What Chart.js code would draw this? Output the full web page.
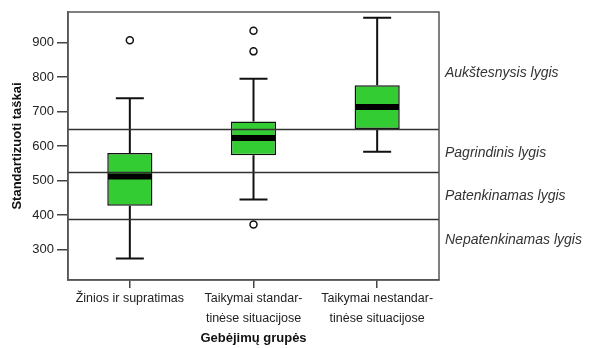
<!DOCTYPE html>
<html>
<head>
<meta charset="utf-8">
<script src="https://cdn.jsdelivr.net/npm/chart.js@4.4.1/dist/chart.umd.min.js"></script>
<style>
html,body{margin:0;padding:0;background:#fff;}
#wrap{width:591px;height:348px;position:relative;}
</style>
</head>
<body>
<div id="wrap"><canvas id="c" width="591" height="348"></canvas></div>
<script>
// ---- data ----
const categories = [
  ["Žinios ir supratimas"],
  ["Taikymai standar-", "tinėse situacijose"],
  ["Taikymai nestandar-", "tinėse situacijose"]
];
const whiskerLow  = [274, 445, 583];
const q1          = [427, 573, 649];
const median      = [512, 623, 713];
const q3          = [580, 671, 776];
const whiskerHigh = [738, 795, 971];
const outlierCategory = [0, 1, 1, 1];
const outlierValue    = [906, 934, 874, 373];
const yTicks = [300, 400, 500, 600, 700, 800, 900];
const levelLines = [650, 525, 390];
const levelLabels = ["Aukštesnysis lygis", "Pagrindinis lygis", "Patenkinamas lygis", "Nepatenkinamas lygis"];
const levelLabelPos = [811, 580, 455, 328];
const yTitle = "Standartizuoti taškai";
const xTitle = "Gebėjimų grupės";

const FONT = "'Liberation Sans', Arial, sans-serif";

const boxPlugin = {
  id: 'boxExtras',
  afterDatasetsDraw(chart) {
    const ctx = chart.ctx;
    const y = chart.scales.y;
    const area = chart.chartArea;
    const meta = chart.getDatasetMeta(0);
    ctx.save();
    meta.data.forEach((bar, i) => {
      const cx = bar.x;
      const w = bar.width;
      ctx.strokeStyle = '#111';
      ctx.lineWidth = 2;
      ctx.beginPath();
      ctx.moveTo(cx, y.getPixelForValue(q3[i]));
      ctx.lineTo(cx, y.getPixelForValue(whiskerHigh[i]));
      ctx.moveTo(cx, y.getPixelForValue(q1[i]));
      ctx.lineTo(cx, y.getPixelForValue(whiskerLow[i]));
      const cap = w * 0.31;
      ctx.moveTo(cx - cap, y.getPixelForValue(whiskerHigh[i]));
      ctx.lineTo(cx + cap, y.getPixelForValue(whiskerHigh[i]));
      ctx.moveTo(cx - cap, y.getPixelForValue(whiskerLow[i]));
      ctx.lineTo(cx + cap, y.getPixelForValue(whiskerLow[i]));
      ctx.stroke();
      ctx.strokeStyle = '#000';
      ctx.lineWidth = 6;
      ctx.beginPath();
      const my = y.getPixelForValue(median[i]);
      ctx.moveTo(cx - w / 2 + 0.75, my);
      ctx.lineTo(cx + w / 2 - 0.75, my);
      ctx.stroke();
    });
    ctx.strokeStyle = '#333';
    ctx.lineWidth = 1.5;
    levelLines.forEach(v => {
      const py = Math.round(y.getPixelForValue(v)) + 0.5;
      ctx.beginPath();
      ctx.moveTo(area.left, py);
      ctx.lineTo(area.right, py);
      ctx.stroke();
    });
    ctx.strokeStyle = '#555';
    ctx.lineWidth = 1.5;
    ctx.strokeRect(area.left, area.top, area.right - area.left, area.bottom - area.top);
    ctx.fillStyle = '#333';
    ctx.font = "italic 14px " + FONT;
    ctx.textAlign = 'left';
    ctx.textBaseline = 'middle';
    levelLabels.forEach((t, i) => {
      ctx.fillText(t, area.right + 6, y.getPixelForValue(levelLabelPos[i]));
    });
    ctx.restore();
  }
};

new Chart(document.getElementById('c'), {
  type: 'bar',
  data: {
    labels: categories,
    datasets: [
      {
        type: 'bar',
        data: q1.map((v, i) => [v, q3[i]]),
        backgroundColor: '#33cc33',
        borderColor: '#111',
        borderWidth: 1.5,
        borderSkipped: false,
        barPercentage: 0.365,
        categoryPercentage: 1.0
      },
      {
        type: 'line',
        data: outlierValue.map((v, i) => ({ x: categories[outlierCategory[i]], y: v })),
        showLine: false,
        pointStyle: 'circle',
        pointRadius: 3.5,
        pointBackgroundColor: '#fff',
        pointBorderColor: '#111',
        pointBorderWidth: 1.5
      }
    ]
  },
  options: {
    responsive: false,
    animation: false,
    events: [],
    layout: { padding: { top: 12, right: 152, bottom: 0, left: 0 } },
    plugins: { legend: { display: false }, tooltip: { enabled: false } },
    scales: {
      x: {
        type: 'category',
        offset: true,
        grid: { offset: false, drawOnChartArea: false, tickLength: 8, color: '#444', lineWidth: 1.5 },
        border: { display: true, color: '#555', width: 1.5 },
        ticks: { color: '#222', padding: 1, maxRotation: 0, autoSkip: false, font: { family: FONT, size: 12.5, lineHeight: 1.6 } },
        title: { display: true, text: xTitle, color: '#111', font: { family: FONT, size: 13, weight: 'bold' }, padding: { top: 0, bottom: 2 } },
        afterFit(s) { s.height = 68; }
      },
      y: {
        type: 'linear',
        min: 212,
        max: 988,
        grid: { drawOnChartArea: false, tickLength: 11, color: '#444', lineWidth: 1.5 },
        border: { display: true, color: '#555', width: 1.5 },
        ticks: { color: '#222', padding: 3, font: { family: FONT, size: 13 } },
        afterBuildTicks(s) { s.ticks = yTicks.map(v => ({ value: v })); },
        title: { display: true, text: yTitle, color: '#111', font: { family: FONT, size: 13, weight: 'bold' }, padding: { top: 10, bottom: 0 } },
        afterFit(s) { s.width = 68; }
      }
    }
  },
  plugins: [boxPlugin]
});
</script>
</body>
</html>
